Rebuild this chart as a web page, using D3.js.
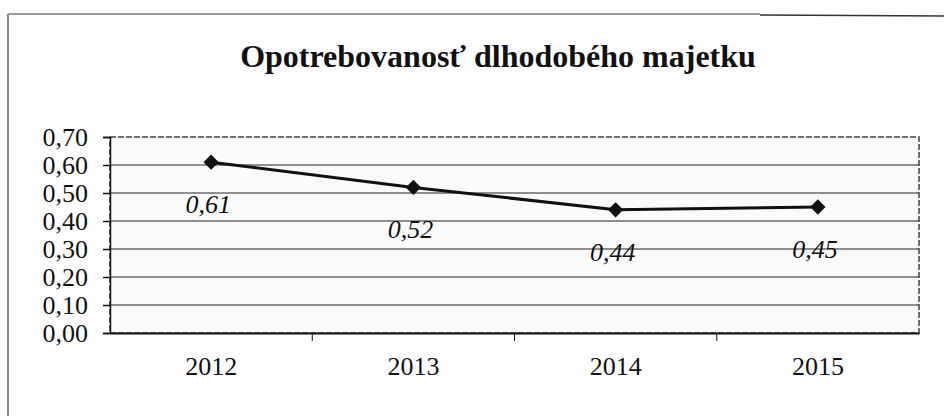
<!DOCTYPE html>
<html>
<head>
<meta charset="utf-8">
<script src="https://cdn.jsdelivr.net/npm/d3@7"></script>
<style>
  body { margin: 0; background: #fff; }
</style>
</head>
<body>
<div id="chart"></div>
<script>
const years = ["2012", "2013", "2014", "2015"];
const values = [0.61, 0.52, 0.44, 0.45];
const valueLabels = ["0,61", "0,52", "0,44", "0,45"];
const yTicks = [0, 0.1, 0.2, 0.3, 0.4, 0.5, 0.6, 0.7];

const serif = "'Times New Roman', Times, serif";
const W = 944, H = 416;
const margin = { top: 137, right: 25, bottom: 83, left: 110 };
const width = W - margin.left - margin.right;
const height = H - margin.top - margin.bottom;

const svg = d3.select("#chart").append("svg")
  .attr("width", W)
  .attr("height", H);

// outer frame (scanned border)
svg.append("line")
  .attr("x1", 8).attr("y1", 14).attr("x2", 8).attr("y2", H)
  .attr("stroke", "#888").attr("stroke-width", 2);
svg.append("line")
  .attr("x1", 8).attr("y1", 14).attr("x2", 760).attr("y2", 14)
  .attr("stroke", "#999").attr("stroke-width", 2);
svg.append("line")
  .attr("x1", 760).attr("y1", 15).attr("x2", W).attr("y2", 16)
  .attr("stroke", "#333").attr("stroke-width", 1.5);

svg.append("text")
  .attr("x", 498)
  .attr("y", 67)
  .attr("text-anchor", "middle")
  .style("font-family", serif)
  .style("font-size", "32px")
  .style("font-weight", "bold")
  .style("fill", "#111")
  .text("Opotrebovanosť dlhodobého majetku");

const g = svg.append("g")
  .attr("transform", `translate(${margin.left},${margin.top})`);

const x = d3.scaleBand()
  .domain(years)
  .range([0, width]);

const y = d3.scaleLinear()
  .domain([0, 0.7])
  .range([height, 0]);

// plot area
g.append("rect")
  .attr("width", width)
  .attr("height", height)
  .attr("fill", "#fbfbfb")
  .attr("stroke", "#444")
  .attr("stroke-width", 1.5)
  .attr("stroke-dasharray", "6,2");

// gridlines
g.append("g")
  .selectAll("line")
  .data(yTicks.filter(d => d > 0 && d < 0.7))
  .enter()
  .append("line")
  .attr("x1", 0)
  .attr("x2", width)
  .attr("y1", d => y(d))
  .attr("y2", d => y(d))
  .attr("stroke", "#222")
  .attr("stroke-width", 1.2);

// y axis
const yAxis = g.append("g")
  .call(d3.axisLeft(y)
    .tickValues(yTicks)
    .tickSize(7)
    .tickPadding(15)
    .tickFormat(d => d3.format(".2f")(d).replace(".", ",")));
yAxis.attr("font-family", null);
yAxis.selectAll("text")
  .style("font-family", serif)
  .style("font-size", "26px")
  .attr("fill", "#111");
yAxis.selectAll("line, path").attr("stroke", "#111").attr("stroke-width", 1.5);

// x axis
const xAxis = g.append("g")
  .attr("transform", `translate(0,${height})`)
  .call(d3.axisBottom(x).tickSize(0).tickPadding(24));
xAxis.attr("font-family", null);
xAxis.select(".domain").attr("stroke", "#111").attr("stroke-width", 2);
xAxis.selectAll("text")
  .style("font-family", serif)
  .style("font-size", "26px")
  .attr("fill", "#111");

// category boundary ticks
g.append("g")
  .selectAll("line")
  .data(years.slice(1))
  .enter()
  .append("line")
  .attr("x1", d => x(d))
  .attr("x2", d => x(d))
  .attr("y1", height)
  .attr("y2", height + 8)
  .attr("stroke", "#111")
  .attr("stroke-width", 1);

const cx = (d, i) => x(years[i]) + x.bandwidth() / 2;

const line = d3.line()
  .x((d, i) => cx(d, i))
  .y(d => y(d));

g.append("path")
  .datum(values)
  .attr("fill", "none")
  .attr("stroke", "#111")
  .attr("stroke-width", 3)
  .attr("d", line);

g.selectAll(".marker")
  .data(values)
  .enter()
  .append("path")
  .attr("class", "marker")
  .attr("d", d3.symbol().type(d3.symbolDiamond2).size(150))
  .attr("transform", (d, i) => `translate(${cx(d, i)},${y(d)})`)
  .attr("fill", "#111");

g.selectAll(".val")
  .data(values)
  .enter()
  .append("text")
  .attr("class", "val")
  .attr("x", (d, i) => cx(d, i) - 3)
  .attr("y", d => y(d) + 51)
  .attr("text-anchor", "middle")
  .style("font-family", serif)
  .style("font-size", "26px")
  .style("font-style", "italic")
  .style("fill", "#111")
  .text((d, i) => valueLabels[i]);
</script>
</body>
</html>
